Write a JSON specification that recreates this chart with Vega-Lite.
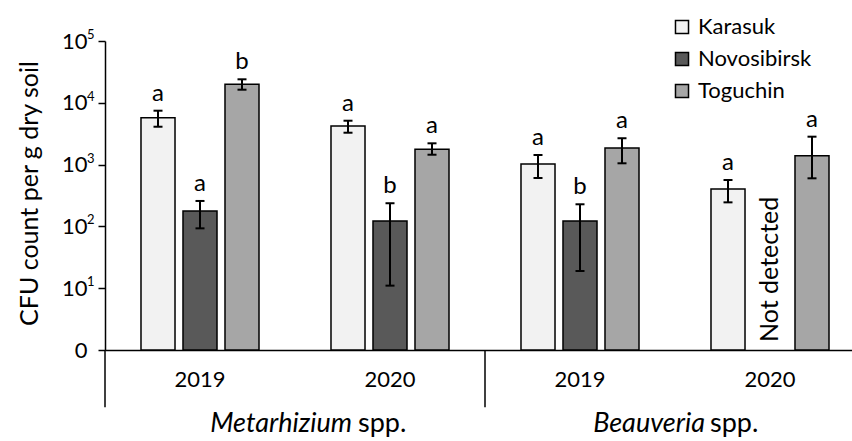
{
  "$schema": "https://vega.github.io/schema/vega-lite/v6.json",
  "width": 747,
  "height": 309,
  "autosize": "none",
  "padding": {"left": 105, "top": 41, "right": 0, "bottom": 91},
  "config": {
    "font": "Lato",
    "view": {"stroke": null},
    "axis": {"grid": false, "labelColor": "black", "titleColor": "black", "domainColor": "black", "tickColor": "black", "domainWidth": 1.5, "tickWidth": 1.5}
  },
  "datasets": {
    "bars": [
      {"group": "M2019", "site": "Karasuk", "value": 5740, "lower": 4100, "upper": 7450, "letter": "a"},
      {"group": "M2019", "site": "Novosibirsk", "value": 177, "lower": 93, "upper": 258, "letter": "a"},
      {"group": "M2019", "site": "Toguchin", "value": 19900, "lower": 16300, "upper": 24000, "letter": "b"},
      {"group": "M2020", "site": "Karasuk", "value": 4210, "lower": 3280, "upper": 5130, "letter": "a"},
      {"group": "M2020", "site": "Novosibirsk", "value": 122, "lower": 11, "upper": 237, "letter": "b"},
      {"group": "M2020", "site": "Toguchin", "value": 1770, "lower": 1445, "upper": 2210, "letter": "a"},
      {"group": "B2019", "site": "Karasuk", "value": 1023, "lower": 607, "upper": 1430, "letter": "a"},
      {"group": "B2019", "site": "Novosibirsk", "value": 122, "lower": 19, "upper": 228, "letter": "b"},
      {"group": "B2019", "site": "Toguchin", "value": 1857, "lower": 1050, "upper": 2670, "letter": "a"},
      {"group": "B2020", "site": "Karasuk", "value": 403, "lower": 245, "upper": 563, "letter": "a"},
      {"group": "B2020", "site": "Toguchin", "value": 1393, "lower": 600, "upper": 2830, "letter": "a"}
    ],
    "exponents": [
      {"v": 10, "e": "1"},
      {"v": 100, "e": "2"},
      {"v": 1000, "e": "3"},
      {"v": 10000, "e": "4"},
      {"v": 100000, "e": "5"}
    ]
  },
  "layer": [
    {
      "data": {"name": "bars"},
      "mark": {"type": "bar", "stroke": "black", "strokeWidth": 1.5},
      "encoding": {
        "x": {"field": "group", "type": "nominal",
          "scale": {"domain": ["M2019", "M2020", "B2019", "B2020"], "range": [0, 760], "paddingInner": 0, "paddingOuter": 0},
          "axis": {"title": null, "ticks": false, "labelPadding": 19, "labelFontSize": 22, "labelAngle": 0, "labelExpr": "slice(datum.value, 1)"}},
        "xOffset": {"field": "site", "type": "nominal",
          "scale": {"domain": ["Karasuk", "Novosibirsk", "Toguchin"], "paddingInner": 0.19, "paddingOuter": 0.857}},
        "y": {"field": "value", "type": "quantitative",
          "scale": {"type": "log", "domain": [1, 100000]},
          "axis": {"title": "CFU count per g dry soil", "values": [1, 10, 100, 1000, 10000, 100000],
            "labelExpr": "datum.value == 1 ? '0' : '10'",
            "labelFontSize": 22, "tickSize": 7, "labelPadding": 11,
            "titleFontSize": 25, "titleFontWeight": "normal", "titleX": -68, "titleY": 152, "titleBaseline": "alphabetic"}},
        "y2": {"datum": 1},
        "color": {"field": "site", "type": "nominal",
          "scale": {"domain": ["Karasuk", "Novosibirsk", "Toguchin"], "range": ["#f2f2f2", "#595959", "#a6a6a6"]},
          "legend": {"title": null, "orient": "none", "legendX": 566, "legendY": -25, "symbolType": "square", "symbolSize": 170,
            "symbolStrokeColor": "black", "symbolStrokeWidth": 1.5, "symbolOpacity": 1, "labelFontSize": 22, "labelColor": "black",
            "rowPadding": 10, "labelOffset": 5, "padding": 0}}
      }
    },
    {
      "data": {"name": "exponents"},
      "mark": {"type": "text", "fontSize": 13, "align": "left", "baseline": "middle", "dx": -18, "dy": -6, "color": "black"},
      "encoding": {
        "x": {"datum": "M2019", "type": "nominal", "bandPosition": 0},
        "y": {"field": "v", "type": "quantitative"},
        "text": {"field": "e"}
      }
    },
    {
      "data": {"name": "bars"},
      "mark": {"type": "rule", "color": "black", "strokeWidth": 2},
      "encoding": {
        "x": {"field": "group", "type": "nominal"},
        "xOffset": {"field": "site", "type": "nominal"},
        "y": {"field": "lower", "type": "quantitative"},
        "y2": {"field": "upper"}
      }
    },
    {
      "data": {"name": "bars"},
      "mark": {"type": "tick", "orient": "horizontal", "size": 9, "thickness": 2, "color": "black", "opacity": 1},
      "encoding": {
        "x": {"field": "group", "type": "nominal"},
        "xOffset": {"field": "site", "type": "nominal"},
        "y": {"field": "lower", "type": "quantitative"}
      }
    },
    {
      "data": {"name": "bars"},
      "mark": {"type": "tick", "orient": "horizontal", "size": 9, "thickness": 2, "color": "black", "opacity": 1},
      "encoding": {
        "x": {"field": "group", "type": "nominal"},
        "xOffset": {"field": "site", "type": "nominal"},
        "y": {"field": "upper", "type": "quantitative"}
      }
    },
    {
      "data": {"name": "bars"},
      "mark": {"type": "text", "fontSize": 24, "dy": -10, "baseline": "alphabetic", "color": "black"},
      "encoding": {
        "x": {"field": "group", "type": "nominal"},
        "xOffset": {"field": "site", "type": "nominal"},
        "y": {"field": "upper", "type": "quantitative"},
        "text": {"field": "letter"}
      }
    },
    {
      "data": {"values": [{"group": "B2020", "site": "Novosibirsk", "t": "Not detected"}]},
      "mark": {"type": "text", "fontSize": 25, "angle": 270, "align": "left", "baseline": "middle", "color": "black"},
      "encoding": {
        "x": {"field": "group", "type": "nominal"},
        "xOffset": {"field": "site", "type": "nominal"},
        "y": {"datum": 1.35},
        "text": {"field": "t"}
      }
    },
    {
      "data": {"values": [{"group": "M2019"}, {"group": "B2019"}]},
      "mark": {"type": "rule", "color": "black", "strokeWidth": 1.5},
      "encoding": {
        "x": {"field": "group", "type": "nominal", "bandPosition": 0},
        "y": {"datum": 1},
        "y2": {"datum": 0.118}
      }
    },
    {
      "data": {"values": [{"group": "M2020", "t": "Metarhizium"}]},
      "mark": {"type": "text", "fontSize": 27, "fontStyle": "italic", "align": "right", "baseline": "middle", "dx": 57, "color": "black"},
      "encoding": {
        "x": {"field": "group", "type": "nominal", "bandPosition": 0},
        "y": {"datum": 0.0635},
        "text": {"field": "t"}
      }
    },
    {
      "data": {"values": [{"group": "M2020", "t": "spp."}]},
      "mark": {"type": "text", "fontSize": 27, "align": "left", "baseline": "middle", "dx": 63, "color": "black"},
      "encoding": {
        "x": {"field": "group", "type": "nominal", "bandPosition": 0},
        "y": {"datum": 0.0635},
        "text": {"field": "t"}
      }
    },
    {
      "data": {"values": [{"group": "B2020", "t": "Beauveria"}]},
      "mark": {"type": "text", "fontSize": 27, "fontStyle": "italic", "align": "right", "baseline": "middle", "dx": 30, "color": "black"},
      "encoding": {
        "x": {"field": "group", "type": "nominal", "bandPosition": 0},
        "y": {"datum": 0.0635},
        "text": {"field": "t"}
      }
    },
    {
      "data": {"values": [{"group": "B2020", "t": "spp."}]},
      "mark": {"type": "text", "fontSize": 27, "align": "left", "baseline": "middle", "dx": 35, "color": "black"},
      "encoding": {
        "x": {"field": "group", "type": "nominal", "bandPosition": 0},
        "y": {"datum": 0.0635},
        "text": {"field": "t"}
      }
    }
  ]
}
